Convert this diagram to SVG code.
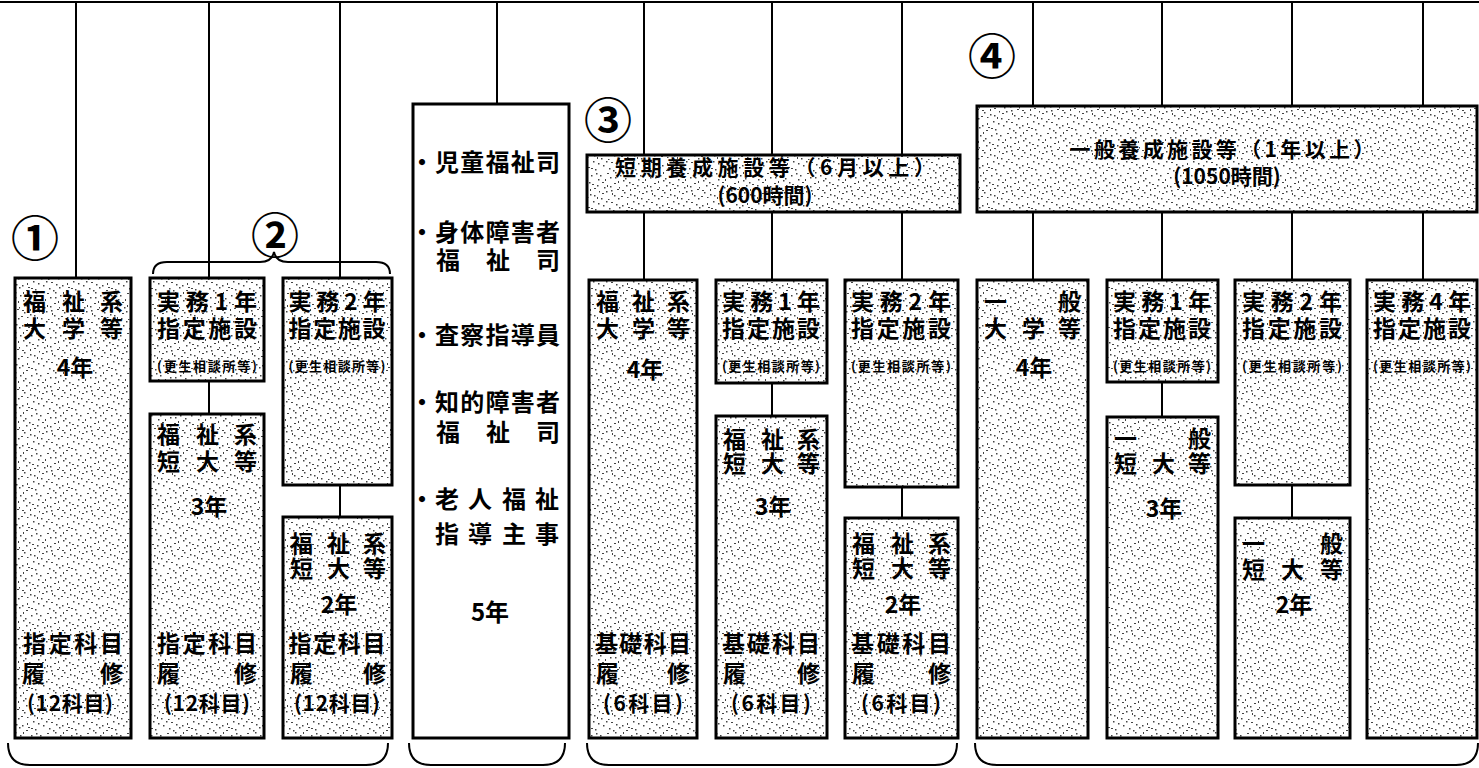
<svg xmlns="http://www.w3.org/2000/svg" width="1479" height="768" viewBox="0 0 1479 768">
<defs>
<pattern id="dots" width="40" height="40" patternUnits="userSpaceOnUse">
<rect width="40" height="40" fill="#fff"/>
<g fill="#444">
<rect x="3" y="5" width="1.5" height="1.5"/><rect x="11" y="2" width="2" height="1"/><rect x="19" y="7" width="1.5" height="1.5"/><rect x="27" y="3" width="1" height="2"/><rect x="35" y="9" width="1.5" height="1.5"/><rect x="7" y="13" width="2" height="1"/><rect x="15" y="17" width="1.5" height="1.5"/><rect x="23" y="12" width="1" height="2"/><rect x="31" y="15" width="1.5" height="1.5"/><rect x="38" y="19" width="1.5" height="1.5"/><rect x="2" y="22" width="2" height="1"/><rect x="10" y="26" width="1.5" height="1.5"/><rect x="18" y="21" width="1" height="2"/><rect x="26" y="25" width="1.5" height="1.5"/><rect x="34" y="28" width="2" height="1"/><rect x="6" y="31" width="1.5" height="1.5"/><rect x="14" y="35" width="1.5" height="1.5"/><rect x="22" y="30" width="2" height="1"/><rect x="30" y="34" width="1.5" height="1.5"/><rect x="37" y="37" width="1" height="2"/><rect x="1" y="38" width="1.5" height="1.5"/><rect x="9" y="8" width="1.5" height="1.5"/><rect x="17" y="29" width="2" height="1"/><rect x="25" y="18" width="1.5" height="1.5"/><rect x="33" y="1" width="1.5" height="1.5"/><rect x="5" y="19" width="1" height="2"/><rect x="13" y="10" width="1.5" height="1.5"/><rect x="21" y="36" width="2" height="1"/><rect x="29" y="22" width="1.5" height="1.5"/><rect x="36" y="13" width="1.5" height="1.5"/><rect x="4" y="27" width="1.5" height="1.5"/><rect x="12" y="33" width="1" height="2"/><rect x="20" y="15" width="1.5" height="1.5"/><rect x="28" y="7" width="2" height="1"/><rect x="39" y="31" width="1" height="1.5"/><rect x="8" y="39" width="1.5" height="1"/><rect x="16" y="4" width="1.5" height="1.5"/><rect x="24" y="32" width="1.5" height="1.5"/><rect x="32" y="24" width="2" height="1"/><rect x="0" y="15" width="1.5" height="1.5"/>
<rect x="6" y="1" width="1.5" height="1.5"/><rect x="14" y="23" width="2" height="1"/><rect x="22" y="5" width="1.5" height="1.5"/><rect x="30" y="29" width="1" height="2"/><rect x="38" y="3" width="1.5" height="1.5"/><rect x="2" y="33" width="2" height="1"/><rect x="10" y="17" width="1.5" height="1.5"/><rect x="18" y="38" width="1.5" height="1.5"/><rect x="26" y="10" width="2" height="1"/><rect x="34" y="35" width="1.5" height="1.5"/><rect x="7" y="25" width="1" height="2"/><rect x="15" y="12" width="1.5" height="1.5"/><rect x="23" y="20" width="1.5" height="1.5"/><rect x="31" y="8" width="2" height="1"/><rect x="37" y="25" width="1.5" height="1.5"/><rect x="11" y="30" width="1.5" height="1.5"/><rect x="27" y="37" width="1.5" height="1"/><rect x="19" y="27" width="1" height="1.5"/>
</g>
</pattern>
</defs>
<style>
.box{fill:url(#dots);stroke:#000;stroke-width:3}
.wbox{fill:#fff;stroke:#000;stroke-width:3}
.ln{stroke:#000;stroke-width:2;fill:none}
.t{font-family:"Noto Sans CJK JP","Noto Sans CJK SC",sans-serif;font-weight:700;font-size:23px;fill:#000;dominant-baseline:central}
.m{text-anchor:middle}
.s{font-size:13px}
.k{font-size:21px}
.mid{font-size:24px}
.num{font-size:48px;font-weight:700}
</style>
<rect width="1479" height="768" fill="#fff"/>

<g id="connectors">
<line class="ln" x1="0" y1="2" x2="1479" y2="2"/>
<line class="ln" x1="76" y1="2" x2="76" y2="278"/>
<line class="ln" x1="209" y1="2" x2="209" y2="278"/>
<line class="ln" x1="340" y1="2" x2="340" y2="278"/>
<line class="ln" x1="497" y1="2" x2="497" y2="104"/>
<line class="ln" x1="644" y1="2" x2="644" y2="280"/>
<line class="ln" x1="772" y1="2" x2="772" y2="280"/>
<line class="ln" x1="902" y1="2" x2="902" y2="280"/>
<line class="ln" x1="1033" y1="2" x2="1033" y2="280"/>
<line class="ln" x1="1162" y1="2" x2="1162" y2="280"/>
<line class="ln" x1="1292" y1="2" x2="1292" y2="280"/>
<line class="ln" x1="1423" y1="2" x2="1423" y2="280"/>
<line class="ln" x1="209" y1="381" x2="209" y2="414"/>
<line class="ln" x1="340" y1="485" x2="340" y2="517"/>
<line class="ln" x1="772" y1="383" x2="772" y2="416"/>
<line class="ln" x1="902" y1="487" x2="902" y2="518"/>
<line class="ln" x1="1162" y1="382" x2="1162" y2="417"/>
<line class="ln" x1="1292" y1="485" x2="1292" y2="518"/>
<path class="ln" d="M153,274 Q153,262 167,262 L260,262 Q272,262 274,252 Q276,262 288,262 L376,262 Q390,262 390,274"/>
<path class="ln" d="M8,743 Q8,765 30,765 L366,765 Q388,765 388,743"/>
<path class="ln" d="M409,743 Q409,765 431,765 L543,765 Q565,765 565,743"/>
<path class="ln" d="M587,743 Q587,765 609,765 L935,765 Q957,765 957,743"/>
<path class="ln" d="M975,743 Q975,765 997,765 L1456,765 Q1478,765 1478,743"/>
</g>

<g id="labels">
<text class="t m num" x="35" y="235">①</text>
<text class="t m num" x="275" y="232">②</text>
<text class="t m num" x="608" y="117">③</text>
<text class="t m num" x="992" y="53">④</text>
</g>

<g id="b1">
<rect class="box" x="15" y="278" width="116" height="460"/>
<text class="t" x="23 62 100" y="300">福祉系</text>
<text class="t" x="23 62 100" y="327">大学等</text>
<text class="t m" x="75" y="366">4年</text>
<text class="t m" x="73" y="642" textLength="100">指定科目</text>
<text class="t" x="22 100" y="672">履修</text>
<text class="t m k" x="70" y="702" textLength="86">(12科目)</text>
</g>

<g id="b2a">
<rect class="box" x="150" y="278" width="114" height="103"/>
<text class="t m" x="207" y="300" textLength="100">実務1年</text>
<text class="t m" x="207" y="327" textLength="100">指定施設</text>
<text class="t m s" x="207" y="365" textLength="100">(更生相談所等)</text>
</g>
<g id="b2a2">
<rect class="box" x="150" y="414" width="114" height="324"/>
<text class="t" x="157 196 234" y="433">福祉系</text>
<text class="t" x="157 196 234" y="460">短大等</text>
<text class="t m" x="209" y="505">3年</text>
<text class="t m" x="207" y="642" textLength="100">指定科目</text>
<text class="t" x="157 234" y="672">履修</text>
<text class="t m k" x="207" y="702" textLength="86">(12科目)</text>
</g>

<g id="b2b">
<rect class="box" x="283" y="278" width="109" height="207"/>
<text class="t m" x="337" y="300" textLength="97">実務2年</text>
<text class="t m" x="337" y="327" textLength="97">指定施設</text>
<text class="t m s" x="337" y="365" textLength="97">(更生相談所等)</text>
</g>
<g id="b2b2">
<rect class="box" x="283" y="517" width="109" height="221"/>
<text class="t" x="290 327 363" y="542">福祉系</text>
<text class="t" x="290 327 363" y="567">短大等</text>
<text class="t m" x="339" y="603">2年</text>
<text class="t m" x="337" y="642" textLength="97">指定科目</text>
<text class="t" x="290 363" y="672">履修</text>
<text class="t m k" x="337" y="702" textLength="86">(12科目)</text>
</g>

<g id="mid">
<rect class="wbox" x="413" y="104" width="156" height="634"/>
<text class="t mid" y="160"><tspan x="410">・</tspan><tspan x="435" textLength="125">児童福祉司</tspan></text>
<text class="t mid" y="230"><tspan x="410">・</tspan><tspan x="435" textLength="125">身体障害者</tspan></text>
<text class="t mid" x="436 486 536" y="258">福祉司</text>
<text class="t mid" y="333"><tspan x="410">・</tspan><tspan x="435" textLength="125">査察指導員</tspan></text>
<text class="t mid" y="400"><tspan x="410">・</tspan><tspan x="435" textLength="125">知的障害者</tspan></text>
<text class="t mid" x="436 486 536" y="430">福祉司</text>
<text class="t mid" x="410 435 468 502 535" y="497">・老人福祉</text>
<text class="t mid" x="435 468 502 535" y="532">指導主事</text>
<text class="t m mid" x="490" y="610">5年</text>
</g>

<g id="h3">
<rect class="box" x="587" y="155" width="373" height="57"/>
<text class="t m k" x="775" y="166" textLength="320">短期養成施設等（6月以上）</text>
<text class="t m k" x="765" y="194">(600時間)</text>
</g>

<g id="b3a">
<rect class="box" x="589" y="280" width="108" height="458"/>
<text class="t" x="596 632 667" y="300">福祉系</text>
<text class="t" x="596 632 667" y="327">大学等</text>
<text class="t m" x="645" y="368">4年</text>
<text class="t m" x="643" y="642" textLength="96">基礎科目</text>
<text class="t" x="596 667" y="672">履修</text>
<text class="t m k" x="643" y="702" textLength="80">(6科目)</text>
</g>

<g id="b3b">
<rect class="box" x="716" y="280" width="111" height="103"/>
<text class="t m" x="771" y="300" textLength="98">実務1年</text>
<text class="t m" x="771" y="327" textLength="98">指定施設</text>
<text class="t m s" x="771" y="365" textLength="98">(更生相談所等)</text>
</g>
<g id="b3b2">
<rect class="box" x="716" y="416" width="111" height="322"/>
<text class="t" x="723 761 797" y="438">福祉系</text>
<text class="t" x="723 761 797" y="462">短大等</text>
<text class="t m" x="773" y="505">3年</text>
<text class="t m" x="771" y="642" textLength="98">基礎科目</text>
<text class="t" x="723 797" y="672">履修</text>
<text class="t m k" x="771" y="702" textLength="80">(6科目)</text>
</g>

<g id="b3c">
<rect class="box" x="845" y="280" width="113" height="207"/>
<text class="t m" x="901" y="300" textLength="100">実務2年</text>
<text class="t m" x="901" y="327" textLength="100">指定施設</text>
<text class="t m s" x="901" y="365" textLength="100">(更生相談所等)</text>
</g>
<g id="b3c2">
<rect class="box" x="845" y="518" width="113" height="220"/>
<text class="t" x="852 891 928" y="542">福祉系</text>
<text class="t" x="852 891 928" y="567">短大等</text>
<text class="t m" x="903" y="603">2年</text>
<text class="t m" x="901" y="642" textLength="100">基礎科目</text>
<text class="t" x="852 928" y="672">履修</text>
<text class="t m k" x="901" y="702" textLength="80">(6科目)</text>
</g>

<g id="h4">
<rect class="box" x="977" y="106" width="500" height="106"/>
<text class="t m k" x="1222" y="148" textLength="305">一般養成施設等（1年以上）</text>
<text class="t m k" x="1227" y="175">(1050時間)</text>
</g>

<g id="b4a">
<rect class="box" x="977" y="280" width="111" height="458"/>
<text class="t" x="984 1058" y="300">一般</text>
<text class="t" x="984 1022 1058" y="327">大学等</text>
<text class="t m" x="1034" y="366">4年</text>
</g>

<g id="b4b">
<rect class="box" x="1107" y="280" width="111" height="102"/>
<text class="t m" x="1162" y="300" textLength="98">実務1年</text>
<text class="t m" x="1162" y="327" textLength="98">指定施設</text>
<text class="t m s" x="1162" y="365" textLength="98">(更生相談所等)</text>
</g>
<g id="b4b2">
<rect class="box" x="1107" y="417" width="111" height="321"/>
<text class="t" x="1114 1188" y="437">一般</text>
<text class="t" x="1114 1152 1188" y="462">短大等</text>
<text class="t m" x="1164" y="507">3年</text>
</g>

<g id="b4c">
<rect class="box" x="1235" y="280" width="115" height="205"/>
<text class="t m" x="1292" y="300" textLength="100">実務2年</text>
<text class="t m" x="1292" y="327" textLength="100">指定施設</text>
<text class="t m s" x="1292" y="365" textLength="100">(更生相談所等)</text>
</g>
<g id="b4c2">
<rect class="box" x="1235" y="518" width="115" height="220"/>
<text class="t" x="1242 1320" y="542">一般</text>
<text class="t" x="1242 1281 1320" y="568">短大等</text>
<text class="t m" x="1294" y="603">2年</text>
</g>

<g id="b4d">
<rect class="box" x="1367" y="280" width="110" height="458"/>
<text class="t m" x="1422" y="300" textLength="98">実務4年</text>
<text class="t m" x="1422" y="327" textLength="98">指定施設</text>
<text class="t m s" x="1422" y="365" textLength="98">(更生相談所等)</text>
</g>
</svg>
